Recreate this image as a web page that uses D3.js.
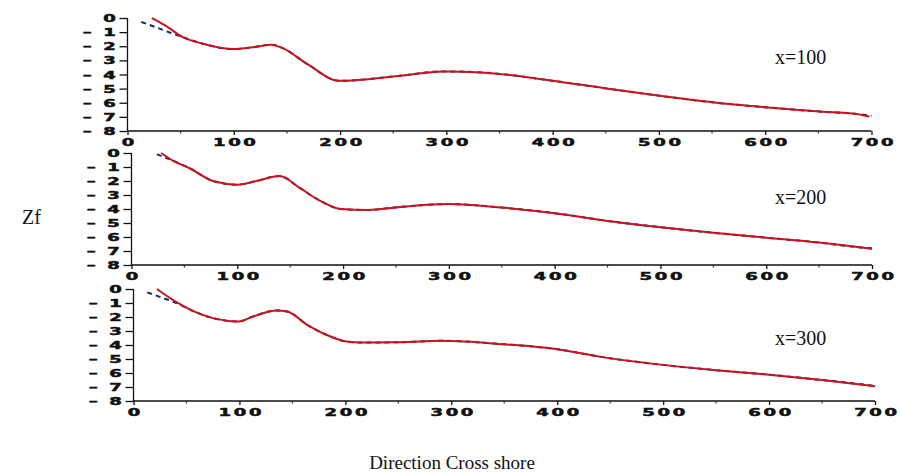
<!DOCTYPE html>
<html>
<head>
<meta charset="utf-8">
<script src="https://cdn.jsdelivr.net/npm/d3@7"></script>
<style>
  body { margin: 0; background: #fff; }
  .tk text { font-family: "DejaVu Sans", sans-serif; font-weight: bold; font-size: 10px; letter-spacing: 1.5px; fill: #111; stroke: #111; stroke-width: 0.5px; white-space: pre; }
  .lbl { font-family: "Liberation Serif", "Times New Roman", serif; fill: #111; }
</style>
</head>
<body>
<div id="chart"></div>
<script>
// Panel labels and ticks
var panelNames = ['x=100', 'x=200', 'x=300'];
var xTicks = [0, 100, 200, 300, 400, 500, 600, 700];
var xMinor = [50, 150, 250, 350, 450, 550, 650];
var yTicks = [0, -1, -2, -3, -4, -5, -6, -7, -8];

// x=100 : model (red) and measured (blue dashed)
var modelX1 = [23, 35, 52, 70, 100, 120, 135, 145, 170, 199, 255, 297, 333, 398, 449, 499, 552, 599, 651, 686, 698];
var modelZ1 = [0, -0.5, -1.35, -1.8, -2.2, -2.05, -1.89, -2.1, -3.3, -4.45, -4.1, -3.78, -3.85, -4.42, -4.97, -5.49, -5.98, -6.31, -6.62, -6.79, -6.98];
var measX1 = [13, 28, 41, 52, 70, 100, 120, 135, 145, 170, 199, 255, 297, 333, 398, 449, 499, 552, 599, 651, 686, 700];
var measZ1 = [-0.28, -0.69, -1.06, -1.35, -1.8, -2.2, -2.05, -1.89, -2.1, -3.3, -4.45, -4.1, -3.78, -3.85, -4.42, -4.97, -5.49, -5.98, -6.31, -6.62, -6.79, -6.92];

// x=200
var modelX2 = [28, 39, 55, 77, 100, 118, 140, 160, 178, 198, 223, 254, 300, 350, 400, 450, 500, 550, 600, 650, 690, 700];
var modelZ2 = [0, -0.54, -1.09, -2.0, -2.26, -2.0, -1.65, -2.55, -3.4, -4.0, -4.07, -3.85, -3.65, -3.9, -4.3, -4.85, -5.3, -5.7, -6.05, -6.4, -6.75, -6.85];
var measX2 = [24, 39, 55, 77, 100, 118, 140, 160, 178, 198, 223, 254, 300, 350, 400, 450, 500, 550, 600, 650, 690, 700];
var measZ2 = [-0.1, -0.54, -1.09, -2.0, -2.26, -2.0, -1.65, -2.55, -3.4, -4.0, -4.07, -3.85, -3.65, -3.9, -4.3, -4.85, -5.3, -5.7, -6.05, -6.4, -6.75, -6.8];

// x=300
var modelX3 = [22, 41, 57, 75, 99, 113, 135, 145, 164, 182, 201, 214, 252, 290, 350, 400, 440, 500, 550, 600, 650, 700];
var modelZ3 = [0, -0.96, -1.6, -2.08, -2.32, -1.96, -1.53, -1.6, -2.56, -3.27, -3.75, -3.82, -3.8, -3.7, -3.95, -4.3, -4.83, -5.42, -5.8, -6.12, -6.5, -6.95];
var measX3 = [13, 28, 42, 57, 75, 99, 113, 135, 145, 164, 182, 201, 214, 252, 290, 350, 400, 440, 500, 550, 600, 650, 700];
var measZ3 = [-0.24, -0.65, -1.05, -1.6, -2.08, -2.32, -1.96, -1.53, -1.6, -2.56, -3.27, -3.75, -3.82, -3.8, -3.7, -3.95, -4.3, -4.83, -5.42, -5.8, -6.12, -6.5, -6.92];

var models = [[modelX1, modelZ1], [modelX2, modelZ2], [modelX3, modelZ3]];
var meas = [[measX1, measZ1], [measX2, measZ2], [measX3, measZ3]];

// Panel frames (pixel boxes)
var frames = [
  { x0: 127.5, x1: 871.5, y0: 18, y1: 131 },
  { x0: 131.5, x1: 872, y0: 153, y1: 265 },
  { x0: 133.5, x1: 875, y0: 289, y1: 401 }
];
var labelY = [57, 197, 338];
var sx = 1.8;

var svg = d3.select('#chart').append('svg').attr('width', 901).attr('height', 472);

var line = function(x, y) {
  return d3.line().curve(d3.curveMonotoneX).x(function(d) { return x(d[0]); }).y(function(d) { return y(d[1]); });
};

frames.forEach(function(f, i) {
  var x = d3.scaleLinear().domain([0, 700]).range([f.x0, f.x1]);
  var y = d3.scaleLinear().domain([0, -8]).range([f.y0, f.y1]);

  // x axis
  var gx = svg.append('g').attr('class', 'tk').attr('transform', 'translate(0,' + f.y1 + ')')
    .call(d3.axisBottom(x).tickValues(xTicks).tickSize(4).tickSizeOuter(0).tickPadding(4));
  gx.selectAll('.tick text').attr('transform', 'scale(' + sx + ',1)').attr('x', 0.8).attr('dy', '0.72em');
  gx.selectAll('line, path').attr('stroke', '#111').attr('stroke-width', 1.3);
  gx.select('.domain').attr('d', 'M' + f.x0 + ',0H' + f.x1);

  // minor ticks
  svg.append('g').selectAll('line').data(xMinor).join('line')
    .attr('x1', function(d) { return x(d); }).attr('x2', function(d) { return x(d); })
    .attr('y1', f.y1).attr('y2', f.y1 + 2.5)
    .attr('stroke', '#333').attr('stroke-width', 1.2);

  // y axis
  var gy = svg.append('g').attr('class', 'tk').attr('transform', 'translate(' + f.x0 + ',0)')
    .call(d3.axisLeft(y).tickValues(yTicks).tickSize(8).tickSizeOuter(0).tickPadding(2)
      .tickFormat(function(d) { return d === 0 ? '0' : '\u2013 ' + Math.abs(d); }));
  gy.selectAll('.tick text').attr('transform', 'scale(' + sx + ',1)').attr('x', -9 / sx).attr('dy', '0.36em');
  gy.selectAll('line, path').attr('stroke', '#111').attr('stroke-width', 1.3);
  gy.select('.domain').attr('d', 'M0,' + f.y0 + 'V' + f.y1);

  // measured (blue dashed) then model (red)
  var mz = d3.zip(meas[i][0], meas[i][1]);
  svg.append('path').datum(mz).attr('d', line(x, y))
    .attr('fill', 'none').attr('stroke', '#1c2470').attr('stroke-width', 2)
    .attr('stroke-dasharray', '5,4');
  var md = d3.zip(models[i][0], models[i][1]);
  svg.append('path').datum(md).attr('d', line(x, y))
    .attr('fill', 'none').attr('stroke', '#c8141e').attr('stroke-width', 2);

  svg.append('text').attr('class', 'lbl').attr('x', 775).attr('y', labelY[i] + 7)
    .attr('font-size', 20).text(panelNames[i]);
});

svg.append('text').attr('class', 'lbl').attr('x', 22).attr('y', 224).attr('font-size', 20).text('Zf');
svg.append('text').attr('class', 'lbl').attr('x', 452).attr('y', 469).attr('text-anchor', 'middle')
  .attr('font-size', 19).text('Direction Cross shore');
</script>
</body>
</html>
